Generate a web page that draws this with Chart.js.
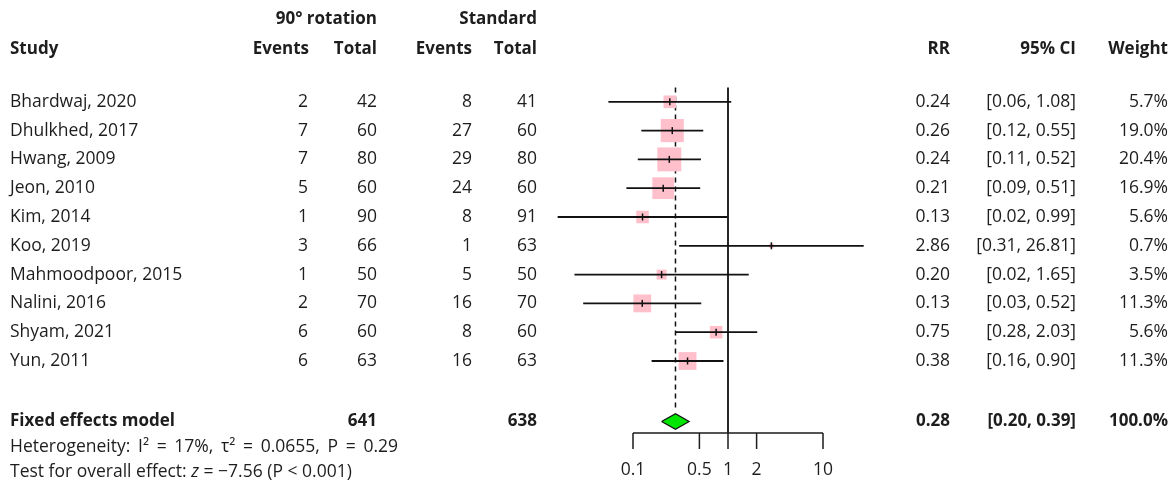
<!DOCTYPE html>
<html>
<head>
<meta charset="utf-8">
<script src="https://cdn.jsdelivr.net/npm/chart.js@4"></script>
<style>
  html, body { margin: 0; padding: 0; background: #fff; }
  #wrap { width: 1176px; height: 491px; }
</style>
</head>
<body>
<div id="wrap"><canvas id="forest" width="1176" height="491"></canvas></div>
<script>
// study data
const studies = ['Bhardwaj, 2020', 'Dhulkhed, 2017', 'Hwang, 2009', 'Jeon, 2010', 'Kim, 2014',
    'Koo, 2019', 'Mahmoodpoor, 2015', 'Nalini, 2016', 'Shyam, 2021', 'Yun, 2011'];
const rotEvents = [2, 7, 7, 5, 1, 3, 1, 2, 6, 6];
const rotTotal = [42, 60, 80, 60, 90, 66, 50, 70, 60, 63];
const stdEvents = [8, 27, 29, 24, 8, 1, 5, 16, 8, 16];
const stdTotal = [41, 60, 80, 60, 91, 63, 50, 70, 60, 63];
const rr = [0.244, 0.259, 0.241, 0.208, 0.126, 2.864, 0.200, 0.1252, 0.750, 0.375];
const lower = [0.0551, 0.1224, 0.1123, 0.0852, 0.0161, 0.306, 0.0242, 0.0299, 0.277, 0.157];
const upper = [1.081, 0.549, 0.519, 0.510, 0.986, 26.81, 1.652, 0.523, 2.031, 0.896];
const weight = [5.7, 19.0, 20.4, 16.9, 5.6, 0.7, 3.5, 11.3, 5.6, 11.3];

const pooled = { rr: 0.28, lower: 0.20, upper: 0.39, rotTotal: 641, stdTotal: 638, weight: 100.0 };
const tickValues = [0.1, 0.5, 1, 2, 10];
const tickLabels = ['0.1', '0.5', '1', '2', '10'];

const FAMILY = '"Open Sans", "Noto Sans", sans-serif';
const FONT = '17.5px ' + FAMILY;
const BOLD = 'bold 17px ' + FAMILY;
const INK = '#1d1d1d';
const pooledRow = 11.1;

const ciLines = studies.map((s, i) => ({
    data: [{ x: lower[i], y: i }, { x: upper[i], y: i }],
    showLine: true,
    borderColor: '#111',
    borderWidth: 1.8,
    pointRadius: 0,
    clip: false,
    order: 1,
}));

const tablePlugin = {
    id: 'table',
    afterDraw(chart) {
        const ctx = chart.ctx;
        const xs = chart.scales.x;
        const ys = chart.scales.y;
        ctx.save();
        ctx.fillStyle = INK;
        ctx.textBaseline = 'middle';
        const put = (s, x, y, align, bold) => {
            ctx.font = bold ? BOLD : FONT;
            ctx.textAlign = align;
            ctx.fillText(s, x, y);
        };
        // headers
        put('90° rotation', 377, 19, 'right', true);
        put('Standard', 537, 19, 'right', true);
        put('Study', 10, 49, 'left', true);
        put('Events', 309, 49, 'right', true);
        put('Total', 377, 49, 'right', true);
        put('Events', 472, 49, 'right', true);
        put('Total', 537, 49, 'right', true);
        put('RR', 950, 49, 'right', true);
        put('95% CI', 1076, 49, 'right', true);
        put('Weight', 1168, 49, 'right', true);
        // rows
        studies.forEach((s, i) => {
            const y = ys.getPixelForValue(i);
            put(s, 10, y, 'left');
            put(String(rotEvents[i]), 308, y, 'right');
            put(String(rotTotal[i]), 377, y, 'right');
            put(String(stdEvents[i]), 472, y, 'right');
            put(String(stdTotal[i]), 537, y, 'right');
            put(rr[i].toFixed(2), 950, y, 'right');
            put('[' + lower[i].toFixed(2) + ', ' + upper[i].toFixed(2) + ']', 1076, y, 'right');
            put(weight[i].toFixed(1) + '%', 1168, y, 'right');
        });
        // pooled row
        const py = ys.getPixelForValue(pooledRow);
        put('Fixed effects model', 10, py, 'left', true);
        put(String(pooled.rotTotal), 377, py, 'right', true);
        put(String(pooled.stdTotal), 537, py, 'right', true);
        put(pooled.rr.toFixed(2), 950, py, 'right', true);
        put('[' + pooled.lower.toFixed(2) + ', ' + pooled.upper.toFixed(2) + ']', 1076, py, 'right', true);
        put(pooled.weight.toFixed(1) + '%', 1168, py, 'right', true);
        // heterogeneity line, spaces opened up a little like the source
        const het = 'Heterogeneity: I² = 17%, τ² = 0.0655, P = 0.29';
        ctx.font = FONT;
        const natural = ctx.measureText(het).width;
        const gaps = het.split(' ').length - 1;
        if ('wordSpacing' in ctx) ctx.wordSpacing = Math.max(0, (388 - natural) / gaps) + 'px';
        put(het, 10, 447, 'left');
        if ('wordSpacing' in ctx) ctx.wordSpacing = '0px';
        // test line with italic z
        let x = 10;
        const parts = [['Test for overall effect: ', FONT], ['z', 'italic ' + FONT], [' = −7.56 (P < 0.001)', FONT]];
        ctx.textAlign = 'left';
        parts.forEach(([s, f]) => {
            ctx.font = f;
            ctx.fillText(s, x, 472);
            x += ctx.measureText(s).width;
        });
        // x axis
        const ay = chart.chartArea.bottom;
        ctx.strokeStyle = INK;
        ctx.lineWidth = 1.5;
        ctx.beginPath();
        ctx.moveTo(xs.getPixelForValue(tickValues[0]), ay);
        ctx.lineTo(xs.getPixelForValue(tickValues[tickValues.length - 1]), ay);
        tickValues.forEach((v) => {
            const tx = xs.getPixelForValue(v);
            ctx.moveTo(tx, ay);
            ctx.lineTo(tx, ay + 16);
        });
        ctx.stroke();
        tickValues.forEach((v, i) => {
            put(tickLabels[i], xs.getPixelForValue(v), ay + 37, 'center');
        });
        ctx.restore();
    },
};

new Chart('forest', {
    type: 'scatter',
    data: {
        datasets: [
            {
                // point estimate tick
                data: rr.map((v, i) => ({ x: v, y: i })),
                pointStyle: 'line',
                rotation: 90,
                pointRadius: 3.5,
                borderColor: '#111',
                borderWidth: 1.5,
                clip: false,
                order: 0,
            },
            ...ciLines,
            {
                // pooled diamond
                data: [
                    { x: pooled.lower, y: pooledRow },
                    { x: pooled.rr, y: pooledRow - 0.27 },
                    { x: pooled.upper, y: pooledRow },
                    { x: pooled.rr, y: pooledRow + 0.27 },
                    { x: pooled.lower, y: pooledRow },
                ],
                showLine: true,
                fill: 'shape',
                backgroundColor: '#00e600',
                borderColor: '#111',
                borderWidth: 1.2,
                pointRadius: 0,
                clip: false,
                order: 2,
            },
            {
                // weighted squares
                data: rr.map((v, i) => ({ x: v, y: i })),
                pointStyle: 'rect',
                pointRadius: weight.map((w) => 3.75 * Math.sqrt(w)),
                backgroundColor: '#ffc0cb',
                borderWidth: 0,
                clip: false,
                order: 4,
            },
            {
                // line of no effect
                data: [{ x: 1, y: -0.5 }, { x: 1, y: 11.5 }],
                showLine: true,
                borderColor: '#111',
                borderWidth: 1.8,
                pointRadius: 0,
                clip: false,
                order: 5,
            },
            {
                // pooled estimate
                data: [{ x: pooled.rr, y: -0.5 }, { x: pooled.rr, y: 10.75 }],
                showLine: true,
                borderColor: '#111',
                borderWidth: 1.5,
                borderDash: [5, 4],
                pointRadius: 0,
                clip: false,
                order: 6,
            },
        ],
    },
    options: {
        responsive: false,
        animation: false,
        devicePixelRatio: 1,
        events: [],
        layout: { padding: { left: 633, right: 353, top: 73, bottom: 58 } },
        plugins: { legend: { display: false }, tooltip: { enabled: false } },
        scales: {
            x: { type: 'logarithmic', min: 0.1, max: 10, display: false },
            y: { type: 'linear', min: -1, max: 11.5, reverse: true, display: false },
        },
    },
    plugins: [tablePlugin],
});
</script>
</body>
</html>
